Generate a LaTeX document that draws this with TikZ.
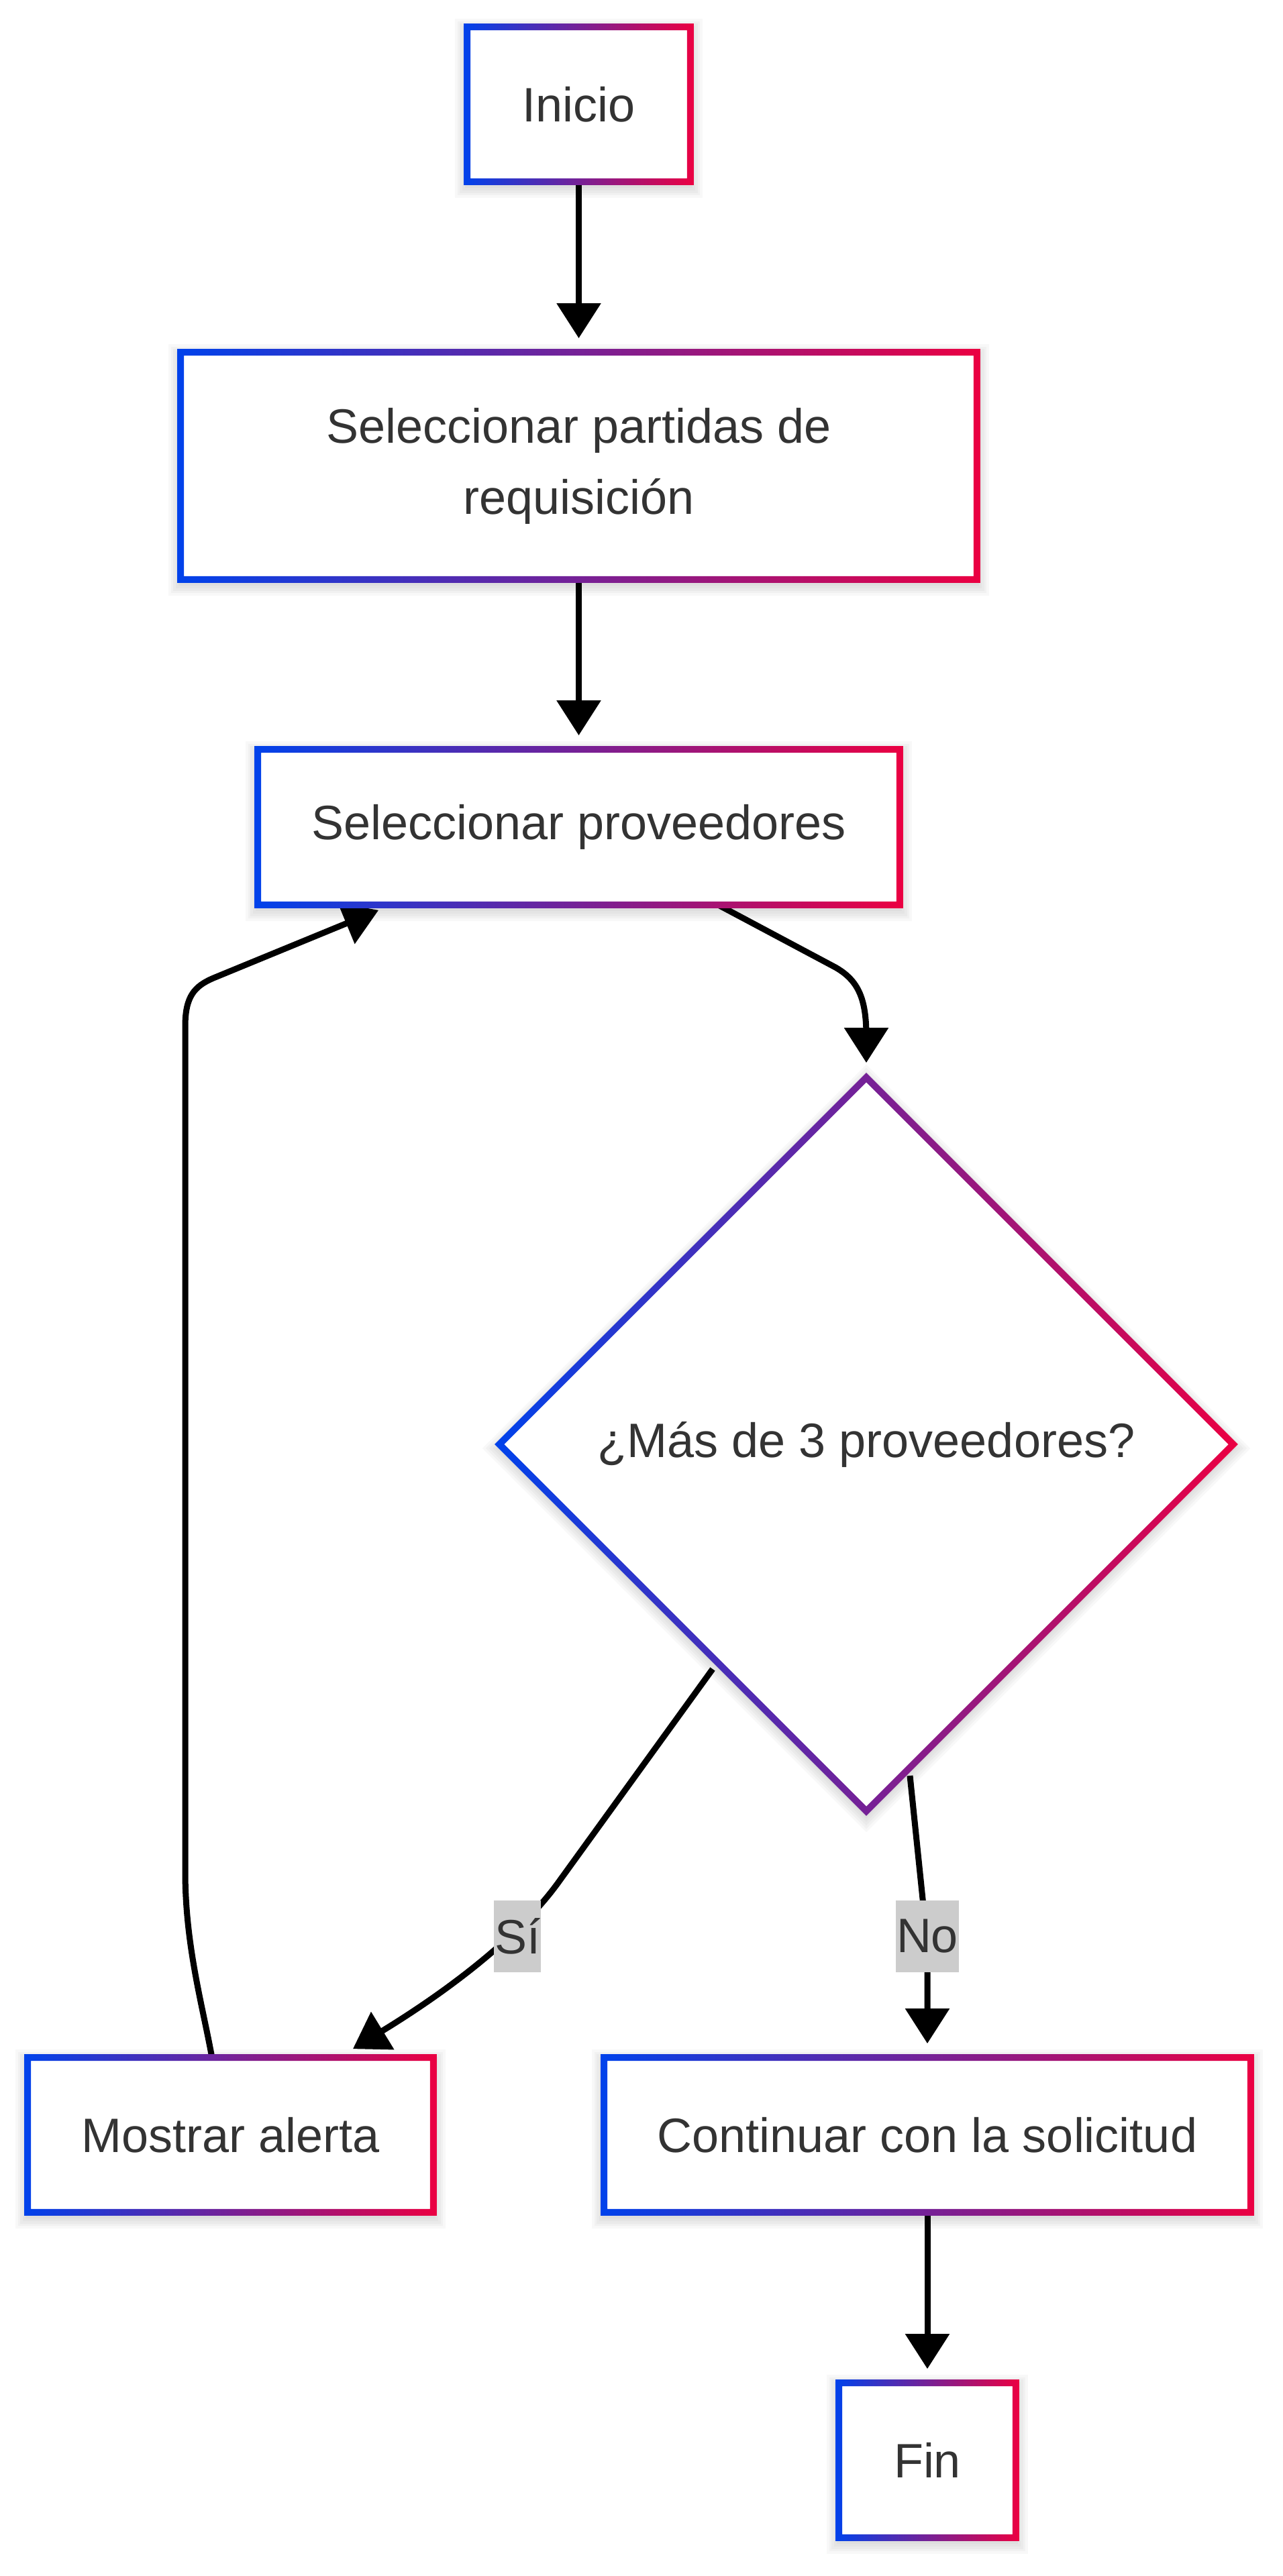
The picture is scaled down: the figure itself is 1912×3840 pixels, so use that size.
\documentclass[tikz,border=0pt]{standalone}
\usepackage{fontspec}
\setmainfont{Liberation Sans}
\usetikzlibrary{arrows.meta,shapes.geometric,backgrounds}
\definecolor{gblue}{HTML}{0042EB}
\definecolor{gred}{HTML}{EB0042}
\definecolor{txtc}{HTML}{333333}
\definecolor{lblbg}{HTML}{CCCCCC}

\newcommand\gradrect[1]{%
  \shade[left color=gblue,right color=gred,even odd rule]
   ([shift={(-1.25pt,1.25pt)}]#1.north west) rectangle ([shift={(1.25pt,-1.25pt)}]#1.south east)
   ([shift={(1.25pt,-1.25pt)}]#1.north west) rectangle ([shift={(-1.25pt,1.25pt)}]#1.south east);}
\newcommand\graddiamond[1]{%
  \shade[left color=gblue,right color=gred,even odd rule]
   ([yshift=1.77pt]#1.north) -- ([xshift=1.77pt]#1.east) -- ([yshift=-1.77pt]#1.south) -- ([xshift=-1.77pt]#1.west) -- cycle
   ([yshift=-1.77pt]#1.north) -- ([xshift=-1.77pt]#1.east) -- ([yshift=1.77pt]#1.south) -- ([xshift=1.77pt]#1.west) -- cycle;}
\newcommand\softshadow[1]{%
  \foreach \s in {1,...,5}{%
    \fill[black, opacity=0.028]
      ([shift={(-\s*0.9pt,\s*0.9pt-1.5pt)}]#1.north west) rectangle ([shift={(\s*0.9pt,-\s*0.9pt-1.5pt)}]#1.south east);}}
\newcommand\softshadowd[1]{%
  \foreach \s in {1,...,5}{%
    \fill[black, opacity=0.028]
      ([yshift=\s*1.27pt-1.5pt]#1.north) -- ([shift={(\s*1.27pt,-1.5pt)}]#1.east)
      -- ([yshift=-\s*1.27pt-1.5pt]#1.south) -- ([shift={(-\s*1.27pt,-1.5pt)}]#1.west) -- cycle;}}

\begin{document}
\begin{tikzpicture}[x=0.25pt,y=-0.25pt,
  box/.style={rectangle, fill=white, inner sep=0pt, align=center,
    font=\fontsize{18pt}{26.5pt}\selectfont, text=txtc},
  decision/.style={diamond, aspect=1, fill=white, inner sep=0pt, align=center,
    minimum width=273pt, minimum height=273pt,
    font=\fontsize{18pt}{26.5pt}\selectfont, text=txtc},
  edge/.style={draw=black, line width=2.25pt, -{Triangle[length=13pt,width=16pt]}},
  lbl/.style={fill=lblbg, inner xsep=0.3pt, inner ysep=0pt, minimum height=26.75pt,
    font=\fontsize{18pt}{26.5pt}\selectfont, text=txtc}]
\useasboundingbox (0,0) rectangle (1912,3840);

% nodes
\node[box, minimum width=82.75pt, minimum height=57.25pt] (ini) at (862.5,155.5) {Inicio};
\node[box, minimum width=296.25pt, minimum height=84.25pt] (par) at (862.5,694.5) {Seleccionar partidas de\\requisición};
\node[box, minimum width=238.75pt, minimum height=57.5pt] (pro) at (862.5,1233) {Seleccionar proveedores};
\node[decision] (dia) at (1291,2153) {¿Más de 3 proveedores?};
\node[box, minimum width=150.75pt, minimum height=57.25pt] (ma) at (343.5,3182.5) {Mostrar alerta};
\node[box, minimum width=240.5pt, minimum height=57.25pt] (con) at (1382,3182.5) {Continuar con la solicitud};
\node[box, minimum width=65.5pt, minimum height=57.25pt] (fin) at (1382,3667.5) {Fin};

% gradient borders
\gradrect{ini}
\gradrect{par}
\gradrect{pro}
\graddiamond{dia}
\gradrect{ma}
\gradrect{con}
\gradrect{fin}

% shadows and connectors
\begin{pgfonlayer}{background}
\softshadow{ini}
\softshadow{par}
\softshadow{pro}
\softshadowd{dia}
\softshadow{ma}
\softshadow{con}
\softshadow{fin}
\draw[edge, shorten >=5.25pt] (ini.south) -- (par.north);
\draw[edge, shorten >=5.25pt] (par.south) -- (pro.north);
\draw[edge, shorten >=5.5pt] ([xshift=51.9pt]pro.south) -- (1245,1442)
   .. controls (1280,1462) and (1291,1490) .. (1291,1545) -- (dia.north);
\draw[edge] ([shift={(-57.25pt,-83.75pt)}]dia.center) -- (835,2802)
   .. controls (780,2880) and (680,2960) .. ([shift={(45.6pt,3.25pt)}]ma.north);
\draw[edge, shorten >=5.25pt] ([shift={(16.25pt,-123.5pt)}]dia.center) -- (1377,2850)
   .. controls (1381,2880) and (1382,2900) .. (1382,2940) -- (con.north);
\draw[edge] ([xshift=-6.9pt]ma.north) .. controls (302,2990) and (276,2900) .. (276,2790)
   -- (276,1530) .. controls (276,1485) and (290,1470) .. (318,1458) -- ([shift={(-74.6pt,-2pt)}]pro.south);
\draw[edge, shorten >=5.25pt] (con.south) -- (fin.north);
\end{pgfonlayer}

% edge labels
\node[lbl] (si) at (771,2886.5) {Sí};
\node[lbl] (no) at (1382,2886.5) {No};
\end{tikzpicture}
\end{document}
